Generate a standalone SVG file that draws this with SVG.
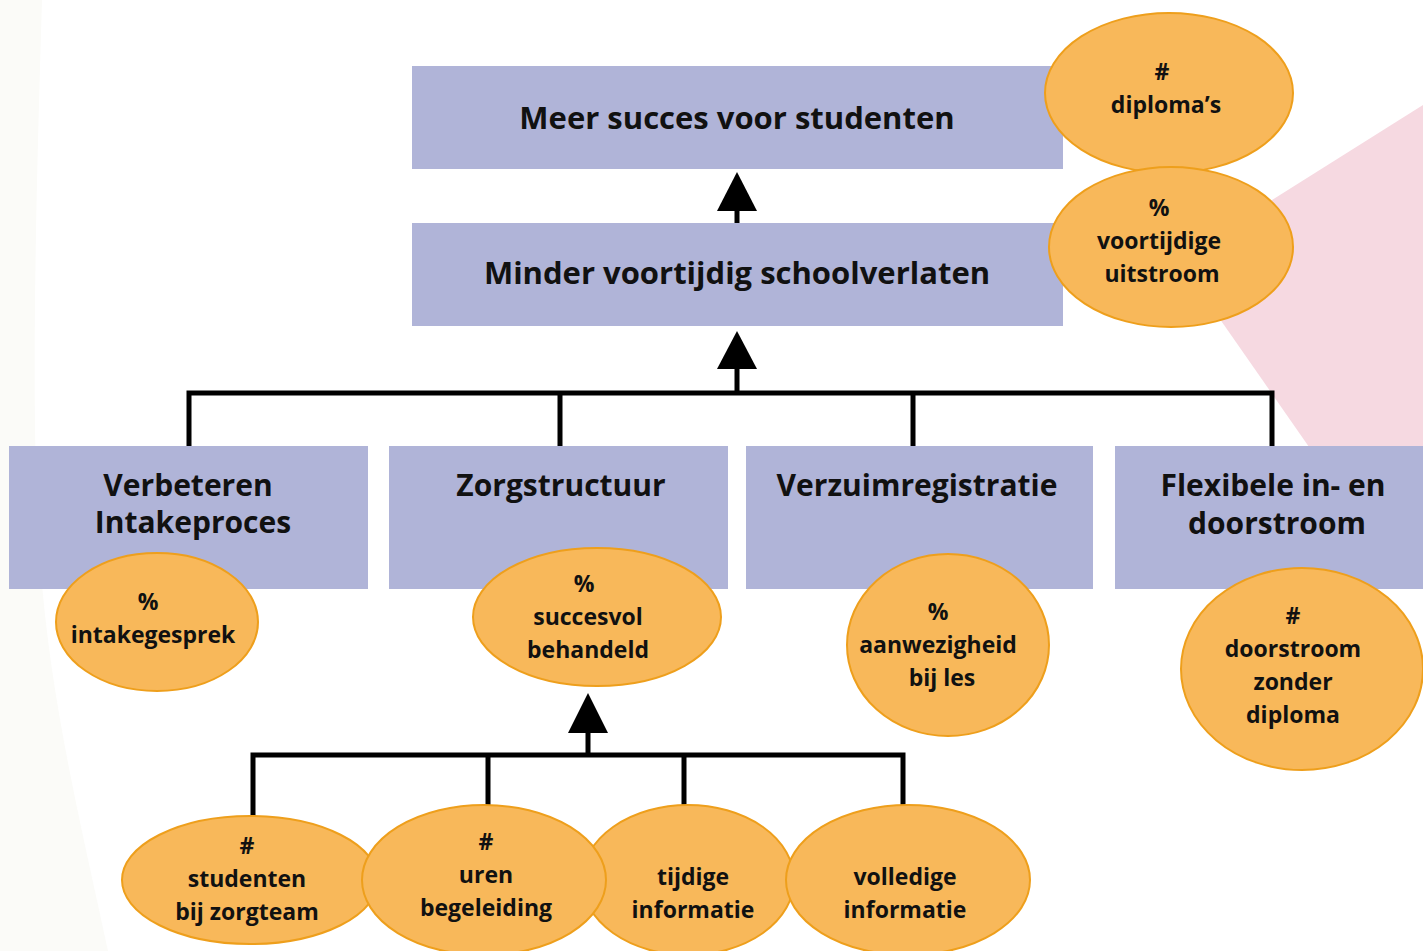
<svg xmlns="http://www.w3.org/2000/svg" width="1423" height="951" viewBox="0 0 1423 951">
  <style>
    .box { fill: #b0b4d8; }
    .kpi { fill: #f8b85a; stroke: #ee9f1c; stroke-width: 2; }
    .t { font-family: "Open Sans", "Liberation Sans", sans-serif; font-weight: 700; fill: #111; text-anchor: middle; font-variant-ligatures: none; }
    .big { font-size: 31px; }
    .mid { font-size: 30px; }
    .sm { font-size: 23px; }
    .wire { fill: none; stroke: #000; stroke-width: 5; }
    .head { fill: #000; }
  </style>

  <!-- backdrop -->
  <rect x="0" y="0" width="1423" height="951" fill="#ffffff"/>
  <path d="M0,0 L42,0 C36,200 30,420 40,560 C50,700 80,820 108,951 L0,951 Z" fill="#fbfbf8"/>
  <polygon points="1423,105 1178,259 1408,589 1423,589" fill="#f6d9e1"/>

  <!-- connectors -->
  <g id="connectors">
    <path class="wire" d="M737,211 V223"/>
    <polygon class="head" points="737,172 757,211 717,211"/>
    <path class="wire" d="M737,366 V393 M189,446 V393 H1272 V446 M560,393 V446 M913,393 V446"/>
    <polygon class="head" points="737,331 757,369 717,369"/>
    <path class="wire" d="M588,731 V755 M253,816 V755 H903 V805 M488,755 V805 M684,755 V805"/>
    <polygon class="head" points="588,693 608,733 568,733"/>
  </g>

  <g id="goal">
    <rect class="box" x="412" y="66" width="651" height="103"/>
    <text class="t big" x="737" y="129">Meer succes voor studenten</text>
  </g>
  <g id="kpi-diplomas">
    <ellipse class="kpi" cx="1169" cy="93" rx="124" ry="80"/>
    <text class="t sm" x="1162" y="80">#</text>
    <text class="t sm" x="1166" y="113">diploma’s</text>
  </g>

  <g id="subgoal">
    <rect class="box" x="412" y="223" width="651" height="103"/>
    <text class="t big" x="737" y="284">Minder voortijdig schoolverlaten</text>
  </g>
  <g id="kpi-uitstroom">
    <ellipse class="kpi" cx="1171" cy="247" rx="122" ry="80"/>
    <text class="t sm" x="1159" y="216">%</text>
    <text class="t sm" x="1159" y="249">voortijdige</text>
    <text class="t sm" x="1162" y="282">uitstroom</text>
  </g>

  <g id="intake">
    <rect class="box" x="9" y="446" width="359" height="143"/>
    <text class="t mid" x="188" y="496">Verbeteren</text>
    <text class="t mid" x="193" y="533">Intakeproces</text>
  </g>
  <g id="kpi-intake">
    <ellipse class="kpi" cx="157" cy="622" rx="101" ry="69"/>
    <text class="t sm" x="148" y="610">%</text>
    <text class="t sm" x="153" y="643">intakegesprek</text>
  </g>

  <g id="zorg">
    <rect class="box" x="389" y="446" width="339" height="143"/>
    <text class="t mid" x="561" y="496">Zorgstructuur</text>
  </g>
  <g id="kpi-zorg">
    <ellipse class="kpi" cx="597" cy="617" rx="124" ry="69"/>
    <text class="t sm" x="584" y="592">%</text>
    <text class="t sm" x="588" y="625">succesvol</text>
    <text class="t sm" x="588" y="658">behandeld</text>
  </g>

  <g id="verzuim">
    <rect class="box" x="746" y="446" width="347" height="143"/>
    <text class="t mid" x="917" y="496">Verzuimregistratie</text>
  </g>
  <g id="kpi-verzuim">
    <ellipse class="kpi" cx="948" cy="645" rx="101" ry="91"/>
    <text class="t sm" x="938" y="620">%</text>
    <text class="t sm" x="938" y="653">aanwezigheid</text>
    <text class="t sm" x="942" y="686">bij les</text>
  </g>

  <g id="flex">
    <rect class="box" x="1115" y="446" width="310" height="143"/>
    <text class="t mid" x="1273" y="496">Flexibele in- en</text>
    <text class="t mid" x="1277" y="534">doorstroom</text>
  </g>
  <g id="kpi-flex">
    <ellipse class="kpi" cx="1302" cy="669" rx="121" ry="101"/>
    <text class="t sm" x="1293" y="624">#</text>
    <text class="t sm" x="1293" y="657">doorstroom</text>
    <text class="t sm" x="1293" y="690">zonder</text>
    <text class="t sm" x="1293" y="723">diploma</text>
  </g>

  <g id="kpi-tijdig">
    <ellipse class="kpi" cx="688" cy="880" rx="106" ry="75"/>
    <text class="t sm" x="693" y="885">tijdige</text>
    <text class="t sm" x="693" y="918">informatie</text>
  </g>
  <g id="kpi-studenten">
    <ellipse class="kpi" cx="250" cy="880" rx="128" ry="64"/>
    <text class="t sm" x="247" y="854">#</text>
    <text class="t sm" x="247" y="887">studenten</text>
    <text class="t sm" x="247" y="920">bij zorgteam</text>
  </g>
  <g id="kpi-uren">
    <ellipse class="kpi" cx="484" cy="880" rx="122" ry="75"/>
    <text class="t sm" x="486" y="850">#</text>
    <text class="t sm" x="486" y="883">uren</text>
    <text class="t sm" x="486" y="916">begeleiding</text>
  </g>
  <g id="kpi-volledig">
    <ellipse class="kpi" cx="908" cy="880" rx="122" ry="75"/>
    <text class="t sm" x="905" y="885">volledige</text>
    <text class="t sm" x="905" y="918">informatie</text>
  </g>
</svg>
